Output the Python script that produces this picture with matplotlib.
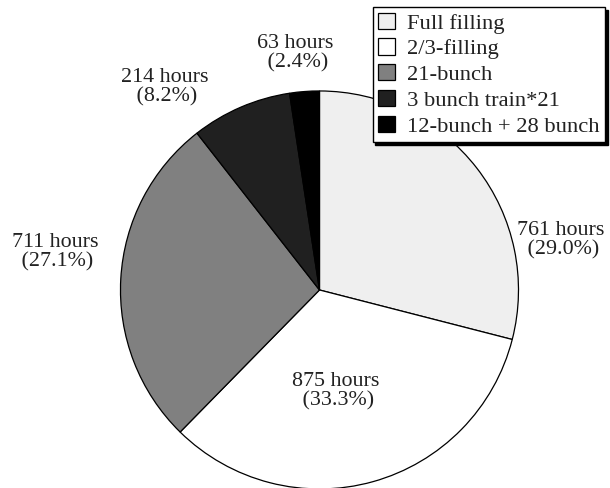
"""
Operation hours by filling pattern
"""

import matplotlib
matplotlib.use("Agg")
import matplotlib.pyplot as plt

plt.rcParams['font.family'] = ['Liberation Serif', 'DejaVu Serif']

#Data
modes = ["Full filling", "2/3-filling", "21-bunch",
         "3 bunch train*21", "12-bunch + 28 bunch"]
hours = [761, 875, 711, 214, 63]
colors = ["#efefef", "#ffffff", "#808080", "#202020", "#000000"]

#Label block centres, in units of the pie radius
label_pos = [(1.21, 0.25), (0.08, -0.51), (-1.33, 0.19),
             (-0.78, 1.02), (-0.12, 1.19)]

fig = plt.figure(figsize=(6.10, 4.88), dpi=100)
ax = fig.add_axes([0.1975, -0.0020, 0.6525, 0.8156])

wedges, _ = ax.pie(hours, colors=colors, startangle=90, counterclock=False,
                   wedgeprops=dict(edgecolor="black", linewidth=0.9))
ax.set_xlim(-1, 1)
ax.set_ylim(-1, 1)
ax.set_aspect("equal")
ax.axis("off")

total = sum(hours)
for h, (x, y) in zip(hours, label_pos):
    pct = 100.0 * h / total
    ax.text(x, y, "%d hours\n (%.1f%%)" % (h, pct), ha="center", va="center",
            ma="center", fontsize=15.8, color="#222222", linespacing=1.0,
            clip_on=False)

leg = fig.legend(wedges, modes, loc="upper right",
                 bbox_to_anchor=(605 / 610, 1 - 7 / 488),
                 fontsize=16.2, frameon=True, fancybox=False,
                 shadow={"color": "black", "alpha": 1.0},
                 edgecolor="black", handlelength=0.72, handleheight=0.72,
                 handletextpad=0.55, borderpad=0.25, labelspacing=0.22,
                 borderaxespad=0)
leg.get_frame().set_linewidth(1.0)
for t in leg.get_texts():
    t.set_color("#222222")

fig.savefig("out.png", dpi=100)
